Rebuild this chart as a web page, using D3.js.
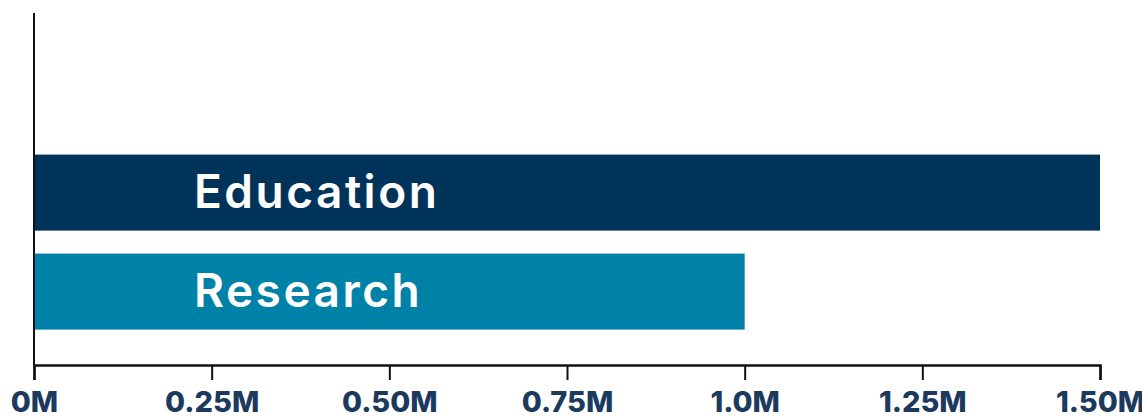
<!DOCTYPE html>
<html>
<head>
<meta charset="utf-8">
<script src="https://cdn.jsdelivr.net/npm/d3@7"></script>
<style>
  html, body { margin: 0; padding: 0; background: #ffffff; }
  svg { display: block; }
</style>
</head>
<body>
<svg id="chart" width="1142" height="416"></svg>
<script>
// Funding by area
const categories = ["Education", "Research"];
const values = [1500000, 1000000];
const colors = ["#003359", "#0081a8"];
const tickValues = [0, 250000, 500000, 750000, 1000000, 1250000, 1500000];
const tickLabels = ["0M", "0.25M", "0.50M", "0.75M", "1.0M", "1.25M", "1.50M"];

const svg = d3.select("#chart");
const plotLeft = 34, plotRight = 1100, plotTop = 13, plotBottom = 365;

const x = d3.scaleLinear().domain([0, 1500000]).range([plotLeft, plotRight]);
const y = d3.scaleBand()
  .domain(categories)
  .range([plotTop, plotBottom])
  .paddingInner(0.232)
  .paddingOuter(0.894)
  .align(0.8);

// bars
svg.append("g").selectAll("rect")
  .data(categories)
  .join("rect")
  .attr("x", x(0))
  .attr("y", d => y(d))
  .attr("width", (d, i) => x(values[i]) - x(0))
  .attr("height", y.bandwidth())
  .attr("fill", (d, i) => colors[i]);

// category labels inside bars
svg.append("g").selectAll("text")
  .data(categories)
  .join("text")
  .attr("x", 194)
  .attr("y", d => y(d) + y.bandwidth() / 2 + 15)
  .attr("fill", "#ffffff")
  .style("font-family", "Inter, 'Open Sans', sans-serif")
  .style("font-weight", 600)
  .style("font-size", "46px")
  .style("letter-spacing", "2.5px")
  .text(d => d);

// x axis
const xAxis = d3.axisBottom(x)
  .tickValues(tickValues)
  .tickFormat((d, i) => tickLabels[i])
  .tickSizeInner(15)
  .tickSizeOuter(15)
  .tickPadding(11);

const gx = svg.append("g")
  .attr("transform", `translate(0,${plotBottom})`)
  .call(xAxis);
gx.select(".domain").attr("stroke", "#111").attr("stroke-width", 2.5);
gx.selectAll(".tick line").attr("stroke", "#111").attr("stroke-width", 2);
gx.selectAll(".tick text")
  .attr("fill", "#1b3a5e")
  .style("font-family", "Inter, 'Open Sans', sans-serif")
  .style("font-weight", 800)
  .style("font-size", "29px");

// y axis line
svg.append("line")
  .attr("x1", plotLeft).attr("x2", plotLeft)
  .attr("y1", plotTop).attr("y2", plotBottom)
  .attr("stroke", "#111")
  .attr("stroke-width", 2);
</script>
</body>
</html>
